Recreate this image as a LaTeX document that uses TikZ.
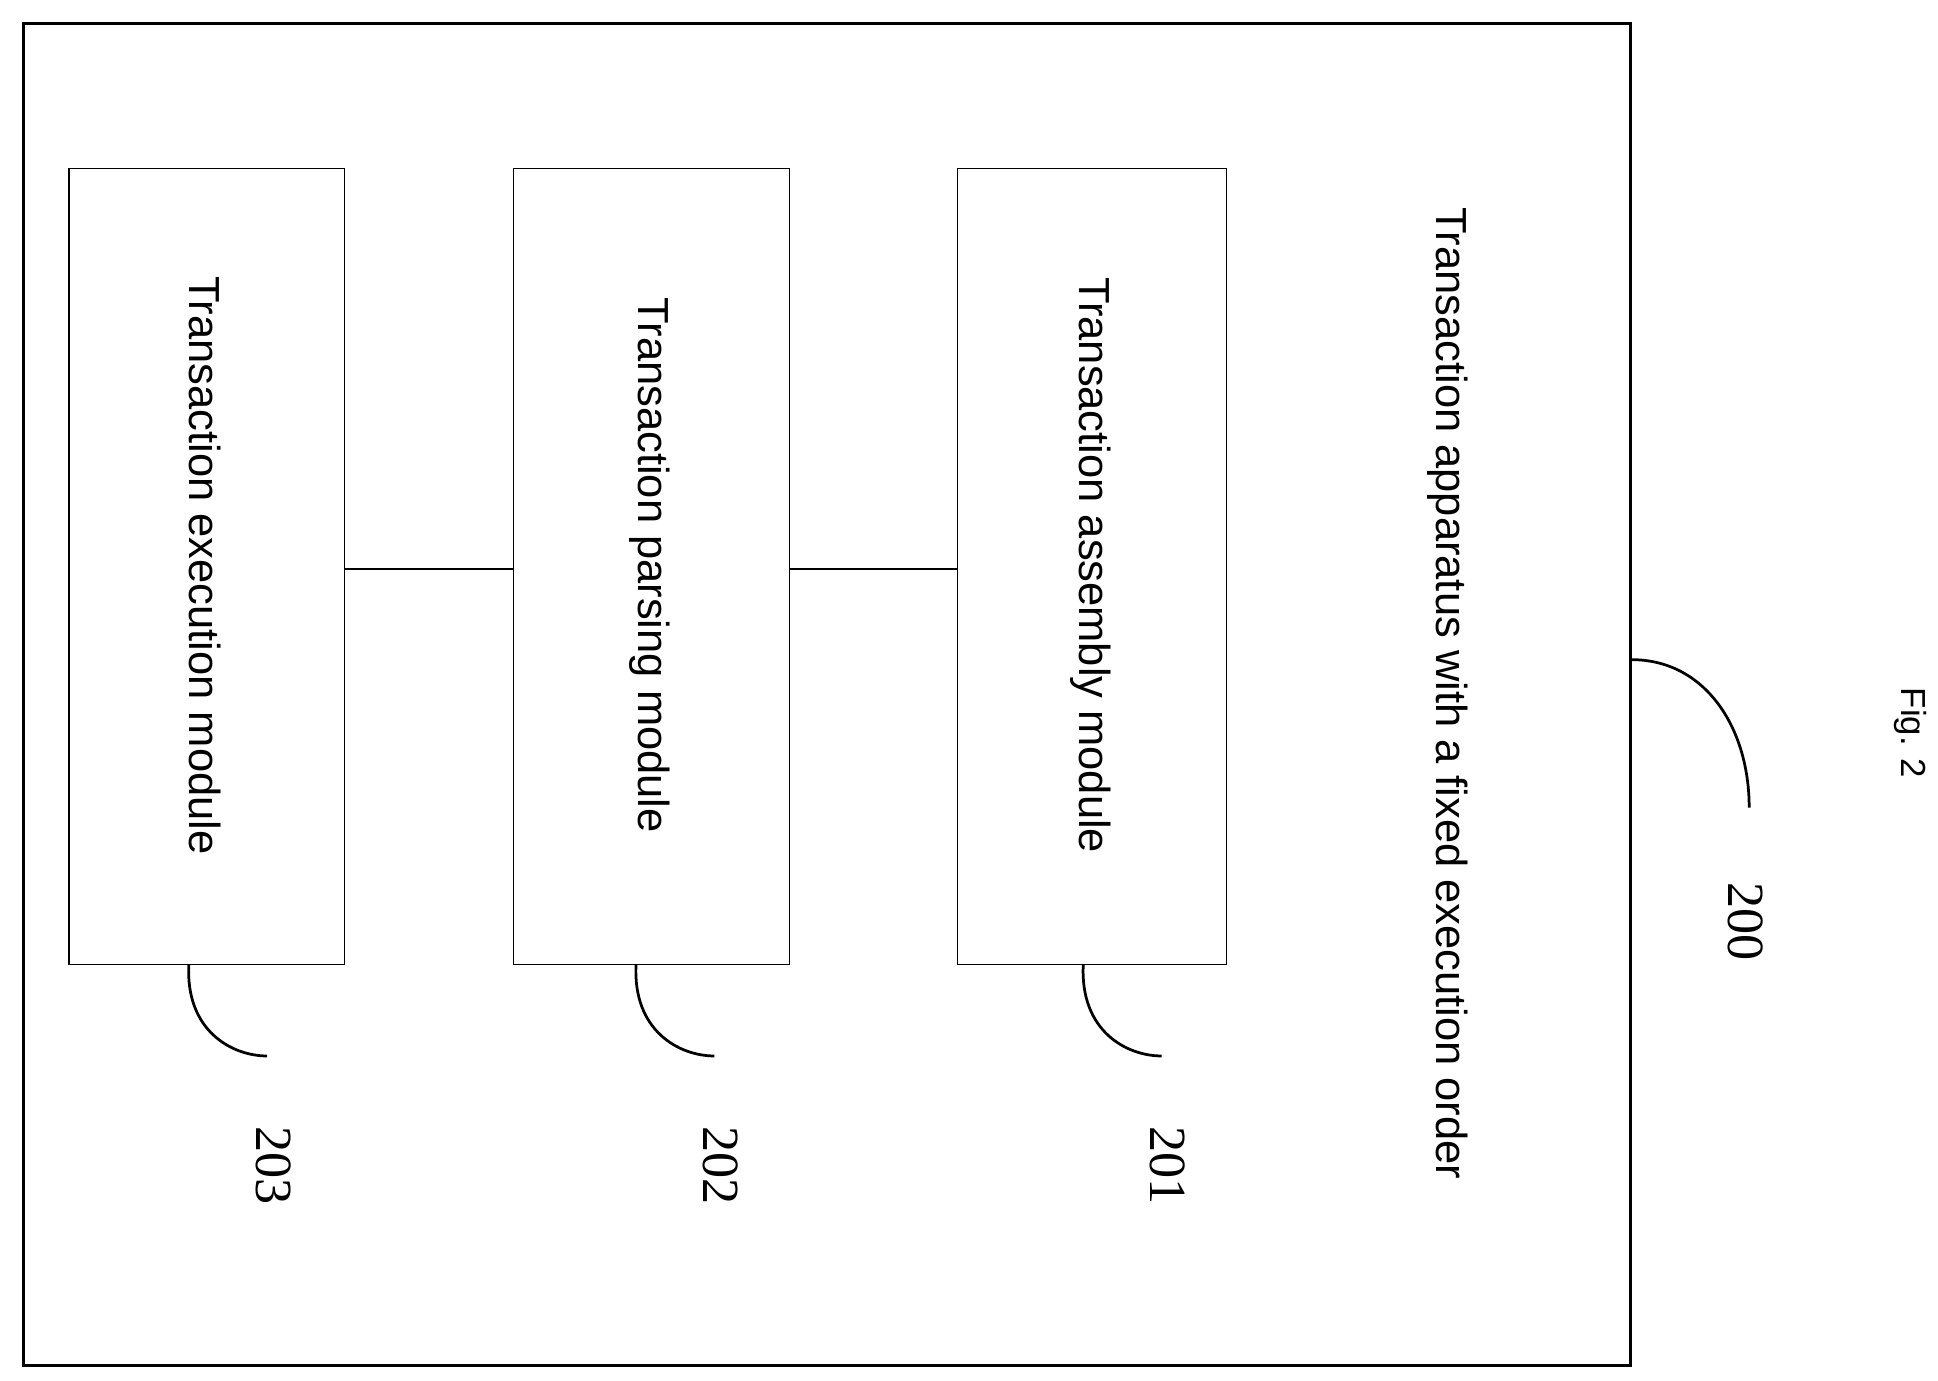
\documentclass[tikz,border=0pt]{standalone}
\usepackage{fontspec}
\setmainfont{Liberation Serif}
\setsansfont{Liberation Sans}
\begin{document}
\begin{tikzpicture}[x=1pt,y=-1pt]
  \tikzstyle{module}=[draw, line width=1pt, minimum width=222pt, minimum height=641pt, inner sep=0pt, anchor=north west]
  \tikzstyle{vtext}=[rotate=-90, font=\sffamily\fontsize{35}{38}\selectfont]
  \tikzstyle{num}=[rotate=-90, font=\fontsize{42}{44}\selectfont]
  \tikzstyle{lead}=[line width=2.2pt]

  \useasboundingbox (0,0) rectangle (1560,1111);
  \node[draw, line width=2.5pt, minimum width=1293pt, minimum height=1080pt, inner sep=0pt, anchor=north west] (frame) at (18,18) {};

  \node[module] (203) at (55,135)  {};
  \node[module] (202) at (413,135) {};
  \node[module, minimum width=217pt] (201) at (770,135) {};

  \node[vtext] (t203) at (165,455) {Transaction execution module};
  \node[vtext] (t202) at (523,455) {Transaction parsing module};
  \node[vtext] (t201) at (878,455) {Transaction assembly module};
  \node[vtext] (title) at (1165,558) {Transaction apparatus with a fixed execution order};
  \node[vtext, font=\sffamily\fontsize{28}{30}\selectfont] (fig) at (1538,590) {Fig. 2};

  \path (203.east |- 0,458) coordinate (e203);
  \path (202.west |- 0,458) coordinate (w202);
  \path (202.east |- 0,458) coordinate (e202);
  \path (201.west |- 0,458) coordinate (w201);
  \draw[lead] (e203) -- (w202);
  \draw[lead] (e202) -- (w201);

  \foreach \m/\x in {203/152, 202/512, 201/872} {
    \coordinate (s\m) at (\x,776);
    \coordinate (f\m) at (\x+63,850);
    \draw[lead] (s\m) .. controls (\x-3,830) and (\x+35,850) .. (f\m);
    \node[num] (n\m) at (\x+68,938) {\m};
  }

  \coordinate (s200) at (frame.east |- 0,531);
  \coordinate (f200) at (1408,650);
  \draw[lead] (s200) .. controls (1372,531) and (1408,585) .. (f200);
  \node[num] (n200) at (1405,742) {200};
\end{tikzpicture}
\end{document}
